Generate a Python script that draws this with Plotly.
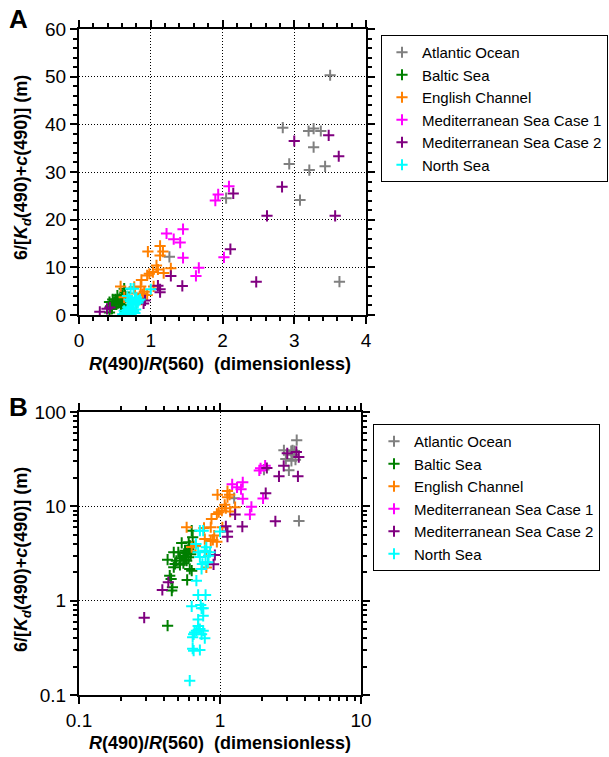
import plotly.graph_objects as go

W, H = 609, 757

# ---------------- data ----------------
series_names = ["Atlantic Ocean", "Baltic Sea", "English Channel",
                "Mediterranean Sea Case 1", "Mediterranean Sea Case 2", "North Sea"]
series_colors = ["#808080", "#007F00", "#FF8000", "#FF00FF", "#800080", "#00FFFF"]

atl_x = [3.50, 2.84, 3.20, 3.27, 3.37, 3.27, 2.93, 3.21, 3.43, 3.08, 2.05, 3.63, 1.26]
atl_y = [50.3, 39.3, 38.6, 39.1, 38.6, 35.2, 31.7, 30.4, 31.2, 24.1, 24.5, 7.0, 12.2]

bal_x = [0.63, 0.64, 0.60, 0.535, 0.61, 0.565, 0.506, 0.47, 0.58, 0.55, 0.60, 0.52, 0.49,
         0.425, 0.48, 0.47, 0.58, 0.61, 0.63, 0.44, 0.45, 0.585, 0.46, 0.455, 0.425,
         0.55, 0.62, 0.60, 0.57, 0.52, 0.62, 0.56]
bal_y = [5.52, 4.7, 4.16, 4.09, 3.83, 3.39, 3.26, 3.26, 3.18, 3.0, 2.88, 2.82, 2.65,
         2.72, 2.45, 2.26, 2.65, 2.17, 2.08, 1.84, 1.70, 1.66, 1.39, 1.28, 0.543,
         2.5, 3.1, 3.5, 2.9, 2.4, 3.3, 2.7]

eng_x = [0.58, 0.63, 0.67, 0.77, 0.78, 0.80, 0.80, 0.86, 0.86, 0.87, 0.89, 0.91, 0.95,
         0.95, 0.96, 0.98, 1.03, 1.08, 1.10, 1.13, 1.13, 1.17, 1.18, 1.28, 1.04]
eng_y = [6.0, 3.7, 3.8, 5.9, 4.5, 2.25, 3.3, 6.0, 4.3, 7.35, 4.4, 4.9, 4.2,
         8.3, 13.3, 8.65, 9.0, 10.4, 9.55, 14.5, 12.5, 13.3, 8.8, 9.8, 6.0]

med1_x = [2.09, 1.94, 1.90, 1.22, 1.45, 1.32, 1.41, 1.45, 1.67, 1.63, 2.02]
med1_y = [27.0, 25.3, 24.0, 17.1, 18.0, 15.9, 15.2, 12.0, 9.9, 8.2, 12.1]

med2_x = [0.29, 0.39, 0.43, 0.90, 0.92, 1.10, 1.13, 1.13, 1.28, 1.44, 2.11, 2.15, 2.47,
          2.62, 2.83, 3.00, 3.48, 3.57, 3.62]
med2_y = [0.66, 1.30, 1.57, 2.43, 3.05, 6.15, 5.4, 4.77, 8.2, 6.1, 13.8, 25.5, 6.95,
          20.8, 26.9, 36.5, 37.7, 20.8, 33.3]

nor_x = [0.76, 0.675, 0.70, 0.78, 0.85, 0.80, 0.74, 0.68, 0.79, 0.75, 0.82, 1.00, 0.72,
         0.70, 0.79, 0.63, 0.74, 0.76, 0.73, 0.76, 0.70, 0.68, 0.72, 0.66, 0.76, 0.65,
         0.74, 0.64, 0.78, 0.64, 0.65, 0.72, 0.61, 0.70, 0.72, 0.83]
nor_y = [5.52, 3.99, 3.26, 3.39, 3.26, 3.68, 2.17, 1.63, 2.55, 2.45, 2.55, 5.4, 5.52,
         1.15, 1.15, 0.87, 0.83, 0.69, 0.90, 0.83, 0.63, 0.48, 0.50, 0.46, 0.48, 0.44,
         0.44, 0.41, 0.40, 0.31, 0.295, 0.30, 0.142, 0.54, 2.9, 3.0]

series_x = [atl_x, bal_x, eng_x, med1_x, med2_x, nor_x]
series_y = [atl_y, bal_y, eng_y, med1_y, med2_y, nor_y]

xlin_ticks = [0, 1, 2, 3, 4]
ylin_ticks = [0, 10, 20, 30, 40, 50, 60]
xlog_ticks = [0.1, 1, 10]
ylog_ticks = [0.1, 1, 10, 100]

# ---------------- helpers ----------------
def px(x):
    return x / W

def py(y):
    return 1 - y / H

FONT = "Liberation Sans, Arial, Helvetica, sans-serif"

fig = go.Figure()

for i, name in enumerate(series_names):
    for panel, (xa, ya, lg) in enumerate([("x", "y", "legend"), ("x2", "y2", "legend2")]):
        fig.add_trace(go.Scatter(
            x=series_x[i], y=series_y[i], mode="markers", name=name,
            xaxis=xa, yaxis=ya, legend=lg,
            marker=dict(symbol="cross-thin", size=8, color=series_colors[i],
                        line=dict(width=2, color=series_colors[i])),
        ))

axis_common = dict(
    showline=True, linecolor="black", linewidth=2, mirror="allticks",
    ticks="outside", ticklen=7, tickwidth=1.5, tickcolor="black",
    showgrid=True, gridcolor="black", gridwidth=1, griddash="1px,2px",
    zeroline=False, automargin=False,
    tickfont=dict(family=FONT, size=19, color="black"),
)

def minor(dt):
    return dict(ticks="outside", dtick=dt, ticklen=4, tickwidth=1.5,
                tickcolor="black", showgrid=False)

legend_common = dict(xanchor="left", yanchor="top", bordercolor="black", borderwidth=1,
                     bgcolor="white", itemwidth=30,
                     font=dict(family=FONT, size=15, color="black"))

fig.update_layout(
    width=W, height=H, margin=dict(l=0, r=0, t=0, b=0, autoexpand=False),
    paper_bgcolor="white", plot_bgcolor="white",
    font=dict(family=FONT, color="black"),
    xaxis=dict(axis_common, domain=[px(79), px(366)], range=[0, 4], tickvals=xlin_ticks,
               minor=minor(0.2), anchor="y"),
    yaxis=dict(axis_common, domain=[py(315), py(29)], range=[0, 60], tickvals=ylin_ticks,
               minor=minor(2), anchor="x"),
    xaxis2=dict(axis_common, type="log", domain=[px(79), px(361)], range=[-1, 1],
                tickvals=xlog_ticks, ticktext=["0.1", "1", "10"],
                minor=minor("D1"), anchor="y2"),
    yaxis2=dict(axis_common, type="log", domain=[py(695), py(412)], range=[-1, 2],
                tickvals=ylog_ticks, ticktext=["0.1", "1", "10", "100"],
                minor=minor("D1"), anchor="x2"),
    legend=dict(legend_common, x=px(381), y=py(35)),
    legend2=dict(legend_common, x=px(373), y=py(424)),
)

xtitle = "<b><i>R</i>(490)/<i>R</i>(560)  (dimensionless)</b>"
ytitle = "<b>6/[<i>K<sub>d</sub></i>(490)+<i>c</i>(490)] (m)</b>"

ann = [
    dict(text="<b>A</b>", x=px(7), y=py(19), xanchor="left", yanchor="middle",
         font=dict(size=26)),
    dict(text="<b>B</b>", x=px(7), y=py(407), xanchor="left", yanchor="middle",
         font=dict(size=26)),
    dict(text=xtitle, x=px(220), y=py(364), xanchor="center", yanchor="middle",
         font=dict(size=18)),
    dict(text=xtitle, x=px(220), y=py(743), xanchor="center", yanchor="middle",
         font=dict(size=18)),
    dict(text=ytitle, x=px(22), y=py(168), xanchor="center", yanchor="middle",
         textangle=-90, font=dict(size=18)),
    dict(text=ytitle, x=px(22), y=py(560), xanchor="center", yanchor="middle",
         textangle=-90, font=dict(size=18)),
]
for a in ann:
    a.update(xref="paper", yref="paper", showarrow=False)
    a["font"] = dict(a["font"], family=FONT, color="black")
fig.update_layout(annotations=ann)

fig.write_html("out.html")
